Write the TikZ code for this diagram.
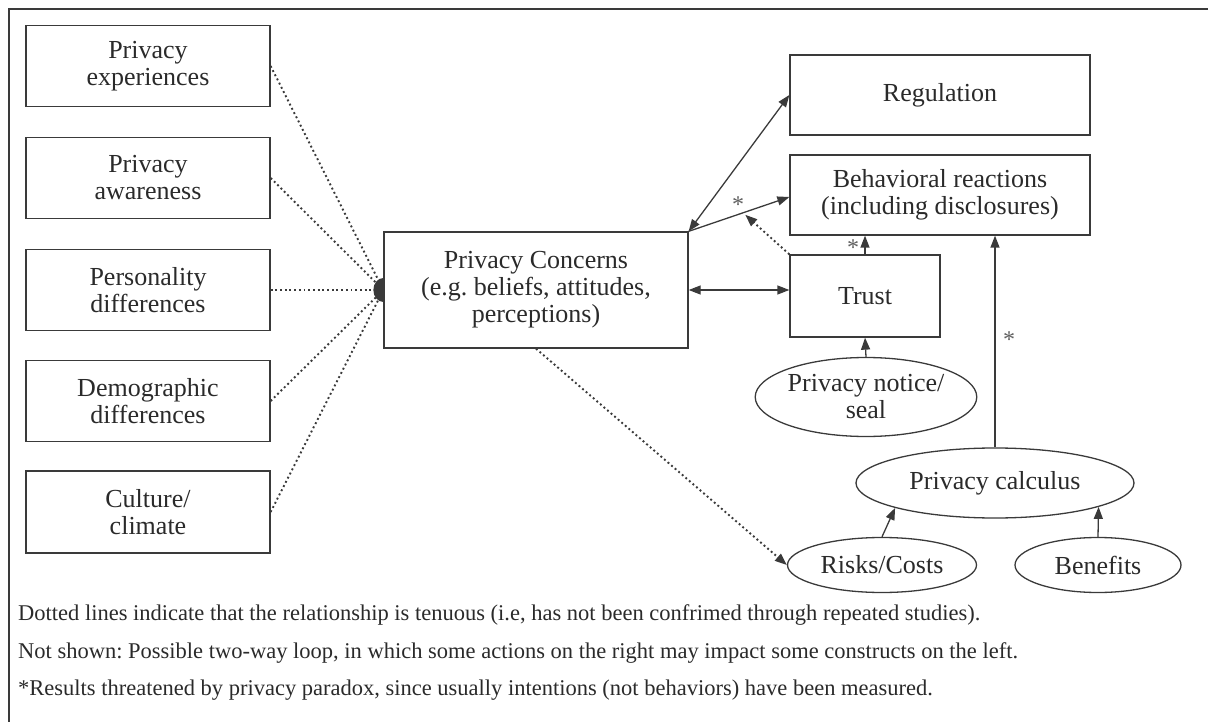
\documentclass[tikz,border=0pt]{standalone}
\usepackage{fontspec}
\setmainfont{Liberation Serif}
\usetikzlibrary{arrows.meta,shapes.geometric,calc}
\frenchspacing
\definecolor{ink}{HTML}{2A2A2A}
\definecolor{edge}{HTML}{3A3A3A}
\tikzset{
  box/.style={draw=edge, line width=1.3pt, rectangle, inner sep=0pt, align=center,
    text=ink, font=\fontsize{26}{27}\selectfont},
  oval/.style={draw=edge, line width=1.3pt, ellipse, inner sep=0pt, align=center,
    text=ink, font=\fontsize{26}{27}\selectfont},
  link/.style={draw=edge, line width=1.3pt},
  tip/.style={-{Triangle[length=12pt,width=9pt]}},
  twotips/.style={{Triangle[length=12pt,width=9pt]}-{Triangle[length=12pt,width=9pt]}},
  faint/.style={draw=edge, line width=1.9pt, dash pattern=on 1.9pt off 2.8pt},
  star/.style={text=ink!75, font=\fontsize{24}{24}\selectfont, inner sep=0pt},
  note/.style={text=ink, font=\fontsize{22.5}{24}\selectfont, anchor=base west, inner sep=0pt}
}
\begin{document}
\begin{tikzpicture}[x=1pt,y=-1pt]
\useasboundingbox (0,0) rectangle (1208,722);
% open frame: left and top rules only
\draw[edge, line width=1.4pt] (9,722) -- (9,9) -- (1208,9);

% antecedents on the left
\node[box, minimum width=244pt, minimum height=81pt] (exp)  at (148,66)  {Privacy\\experiences};
\node[box, minimum width=244pt, minimum height=81pt] (aware) at (148,178) {Privacy\\awareness};
\node[box, minimum width=244pt, minimum height=81pt] (pers) at (148,290) {Personality\\differences};
\node[box, minimum width=244pt, minimum height=81pt] (demo) at (148,401) {Demographic\\differences};
\node[box, minimum width=244pt, minimum height=82pt] (cult) at (148,512) {Culture/\\climate};

% central construct
\node[box, minimum width=304pt, minimum height=116pt] (pc) at (536,290)
  {Privacy Concerns\\(e.g. beliefs, attitudes,\\perceptions)};

% outcomes
\node[box, minimum width=300pt, minimum height=80pt] (reg) at (940,95) {Regulation};
\node[box, minimum width=300pt, minimum height=80pt] (beh) at (940,195)
  {Behavioral reactions\\(including disclosures)};
\node[box, minimum width=150pt, minimum height=82pt] (trust) at (865,296) {Trust};

% ovals
\node[oval, minimum width=208pt, minimum height=79pt] (seal) at (866,397) {Privacy notice/\\seal};
\node[oval, minimum width=278pt, minimum height=70pt] (calc) at (995,483) {Privacy calculus};
\node[oval, minimum width=189pt, minimum height=55pt] (risk) at (882,565) {Risks/Costs};
\node[oval, minimum width=166pt, minimum height=55pt] (ben) at (1098,565) {Benefits};

% dotted links from antecedents into the hub on the left of the central box
\foreach \n in {exp,aware,pers,demo,cult}
  \draw[faint] (\n.east) -- (pc.west);
\fill[edge] (pc.west) ++(0,12) arc[start angle=90, end angle=270, x radius=10, y radius=12] -- cycle;

% solid links
\draw[link, twotips] (pc.north east) -- (reg.west);
\coordinate (behin) at ($(beh.west)+(0,2)$);
\draw[link, tip] (pc.north east) -- (behin);
\draw[link, twotips] (pc.east) -- (trust.west |- pc.east);
\draw[link, tip] (trust.north) -- (trust.north |- beh.south);
\draw[link, tip] (seal.north) -- (trust.south);
\draw[link, tip] (calc.north) -- (calc.north |- beh.south);
\draw[link, tip] (risk.north) -- (calc.194);
\draw[link, tip] (ben.north) -- (calc.347);

% dotted links
\coordinate (onbeh) at ($(pc.north east)!0.54!(behin)$);
\draw[faint, tip, shorten >=3pt] (trust.north west) -- (onbeh);
\draw[faint, tip] (pc.south) -- (risk.west);

% asterisks
\node[star] (s1) at (738,205) {*};
\node[star] (s2) at (853,248) {*};
\node[star] (s3) at (1009,340) {*};

% notes
\node[note] (n1) at (18,620) {Dotted lines indicate that the relationship is tenuous (i.e, has not been confrimed through repeated studies).};
\node[note] (n2) at (18,658) {Not shown: Possible two-way loop, in which some actions on the right may impact some constructs on the left.};
\node[note] (n3) at (18,695) {*Results threatened by privacy paradox, since usually intentions (not behaviors) have been measured.};
\end{tikzpicture}
\end{document}
